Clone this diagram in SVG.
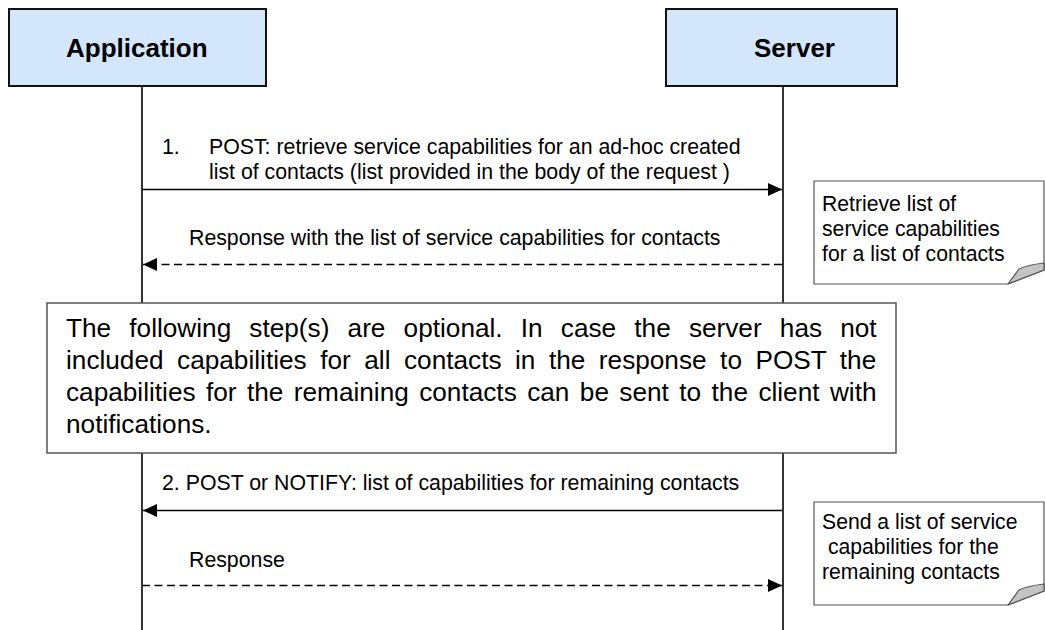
<svg xmlns="http://www.w3.org/2000/svg" width="1045" height="630" viewBox="0 0 1045 630">
  <style>
    .actor { fill: #D4E6FB; stroke: #111; stroke-width: 2; }
    .actor-label { font-family: "Liberation Sans", Arial, sans-serif; font-size: 26px; font-weight: bold; fill: #000; }
    .lifeline { stroke: #000; stroke-width: 1.6; fill: none; }
    .msg { stroke: #000; stroke-width: 1.5; fill: none; }
    .dashed { stroke-dasharray: 8 4.5; }
    .label { font-family: "Liberation Sans", Arial, sans-serif; font-size: 21.3px; fill: #000; }
    .note { fill: #fff; stroke: #555; stroke-width: 1.2; }
    .curl { fill: #c4c4c4; stroke: #555; stroke-width: 1.2; stroke-linejoin: round; }
    .note-text { font-family: "Liberation Sans", Arial, sans-serif; font-size: 21.2px; fill: #000; }
    .frame { fill: #fff; stroke: #555; stroke-width: 1.5; }
    .frame-text { font-family: "Liberation Sans", Arial, sans-serif; font-size: 26.2px; fill: #000; }
  </style>
  <defs>
    <marker id="head" markerUnits="userSpaceOnUse" markerWidth="15" markerHeight="14" refX="14" refY="6.5" orient="auto">
      <path d="M0,0 L14,6.5 L0,13 Z" fill="#000"/>
    </marker>
  </defs>

  <rect width="1045" height="630" fill="#fff"/>

  <!-- lifelines -->
  <g id="lifelines">
    <line class="lifeline" x1="142" y1="86" x2="142" y2="630"/>
    <line class="lifeline" x1="783" y1="86" x2="783" y2="630"/>
  </g>

  <!-- participants -->
  <g id="application">
    <rect class="actor" x="9" y="9" width="257" height="77"/>
    <text class="actor-label" x="66" y="57">Application</text>
  </g>
  <g id="server">
    <rect class="actor" x="666" y="9" width="231" height="77"/>
    <text class="actor-label" x="754" y="57">Server</text>
  </g>

  <!-- messages -->
  <g id="connectors">
    <line class="msg" x1="142" y1="189.5" x2="782" y2="189.5" marker-end="url(#head)"/>
    <line class="msg dashed" x1="782" y1="264.5" x2="143" y2="264.5" marker-end="url(#head)"/>
    <line class="msg" x1="782" y1="510.5" x2="143" y2="510.5" marker-end="url(#head)"/>
    <line class="msg dashed" x1="142" y1="585.5" x2="782" y2="585.5" marker-end="url(#head)"/>
  </g>

  <g id="message-labels">
    <text class="label" x="162" y="154">1.</text>
    <text class="label" x="209" y="154">POST: retrieve service capabilities for an ad-hoc created</text>
    <text class="label" x="209" y="179">list of contacts (list provided in the body of the request )</text>
    <text class="label" x="189" y="245">Response with the list of service capabilities for contacts</text>
    <text class="label" x="162" y="490">2. POST or NOTIFY: list of capabilities for remaining contacts</text>
    <text class="label" x="189" y="567">Response</text>
  </g>

  <!-- note: server-side processing of step 1 -->
  <g id="note-retrieve">
    <path class="note" d="M814,181 H1044 V270 L1008,284 H814 Z"/>
    <path class="curl" d="M1008,284 L1019,269 Q1027,265 1044,263 L1044,270 Z"/>
    <text class="note-text" x="822" y="211">Retrieve list of</text>
    <text class="note-text" x="822" y="236">service capabilities</text>
    <text class="note-text" x="822" y="261">for a list of contacts</text>
  </g>

  <!-- optional-steps frame -->
  <g id="optional-frame">
    <rect class="frame" x="47" y="303" width="849" height="150"/>
    <text class="frame-text" x="66" y="337" word-spacing="10.9">The following step(s) are optional. In case the server has not</text>
    <text class="frame-text" x="66" y="369" word-spacing="6.25">included capabilities for all contacts in the response to POST the</text>
    <text class="frame-text" x="66" y="401" word-spacing="3.15">capabilities for the remaining contacts can be sent to the client with</text>
    <text class="frame-text" x="66" y="433">notifications.</text>
  </g>

  <!-- note: server-side processing of step 2 -->
  <g id="note-send">
    <path class="note" d="M814,502 H1044 V591 L1008,605 H814 Z"/>
    <path class="curl" d="M1008,605 L1019,590 Q1027,586 1044,584 L1044,591 Z"/>
    <text class="note-text" x="822" y="529" xml:space="preserve">Send a list of service</text>
    <text class="note-text" x="822" y="554" xml:space="preserve"> capabilities for the</text>
    <text class="note-text" x="822" y="579">remaining contacts</text>
  </g>
</svg>
